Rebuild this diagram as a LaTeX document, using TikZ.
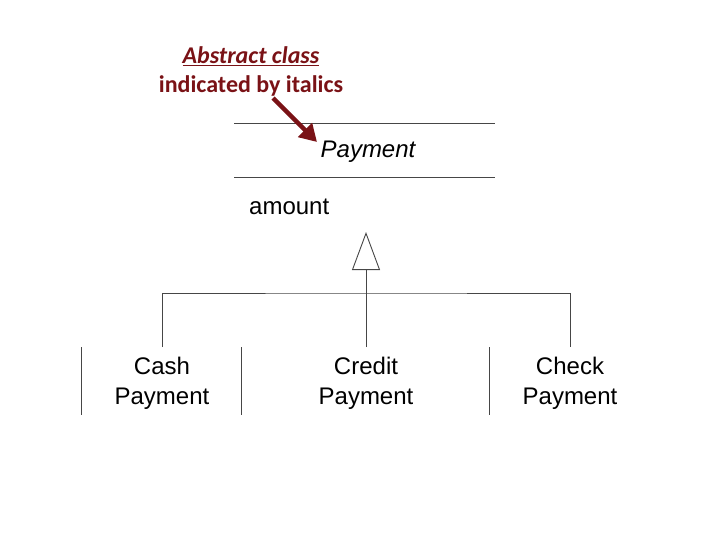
\documentclass[tikz,border=0pt]{standalone}
\usepackage{fontspec}
\setmainfont{Liberation Sans}
\newfontfamily\notefont{Carlito}
\usetikzlibrary{arrows.meta,positioning}
\definecolor{notered}{RGB}{122,18,22}
\definecolor{umlgray}{RGB}{70,70,70}

\begin{document}
\begin{tikzpicture}[
    x=1pt, y=-1pt,
    font=\fontsize{24}{30}\selectfont,
    uml/.style={draw=umlgray, line width=0.9pt},
    classname/.style={align=center, inner sep=0pt, minimum height=72pt, anchor=north},
    note/.style={text=notered, font=\notefont\bfseries\fontsize{24}{29}\selectfont, inner sep=0pt}
]
\useasboundingbox (0,0) rectangle (720,540);

% annotation
\node[note] (abstract) at (251,56) {\itshape\underline{Abstract class}};
\node[note, anchor=base] (italics) at ([yshift=-29pt]abstract.base) {indicated by italics};

% abstract class Payment
\node[font=\fontsize{24}{30}\selectfont\itshape, inner sep=0pt] (payment) at (368,152) {Payment};
\node[anchor=west, inner sep=0pt] (amount) at (249,207) {amount};
\draw[uml] (234,123) -- (495,123);
\draw[uml] (234,177) -- (495,177);

\draw[notered, line width=4.5pt, -{Triangle[length=17pt,width=19pt]}]
    (273,98) coordinate (notestart) -- (317,142) coordinate (noteend);

% subclasses
\node[classname] (cash) at (162,347) {Cash\\Payment};
\node[classname] (credit) at (366,347) {Credit\\Payment};
\node[classname] (check) at (570,347) {Check\\Payment};
\draw[uml] (81,347) -- (81,415);
\draw[uml] (241,347) -- (241,415);
\draw[uml] (489,347) -- (489,415);

% generalization
\coordinate (hub) at (366,293);
\coordinate (apex) at (366,232);
\draw[uml] (cash.north) |- (hub) -| (check.north);
\draw[uml, -{Triangle[open, length=38pt, width=28pt, fill=white]}] (credit.north) -- (apex);
\end{tikzpicture}
\end{document}
